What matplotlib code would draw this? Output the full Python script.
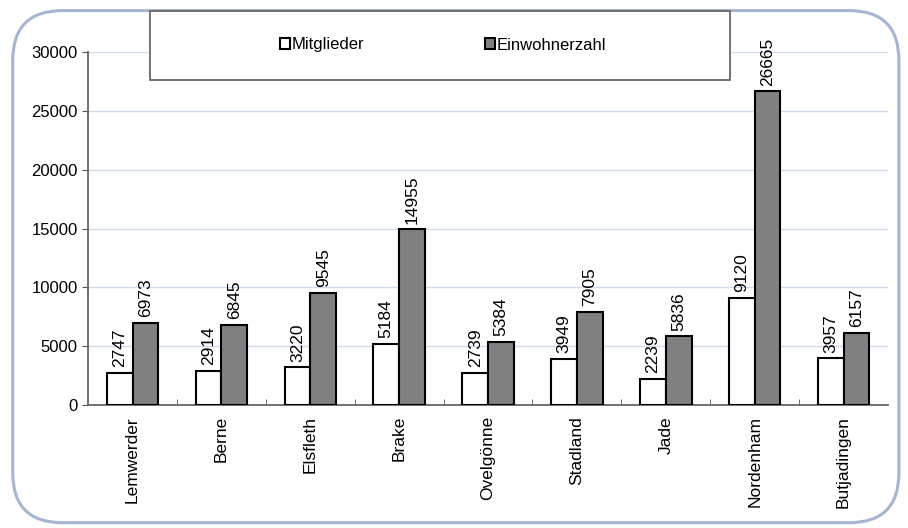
import matplotlib.pyplot as plt
import numpy as np
from matplotlib.patches import FancyBboxPatch, Rectangle

plt.rcParams['font.family'] = ['Liberation Sans', 'DejaVu Sans']

orte = ['Lemwerder', 'Berne', 'Elsfleth', 'Brake', 'Ovelgönne',
        'Stadland', 'Jade', 'Nordenham', 'Butjadingen']
mitglieder = [2747, 2914, 3220, 5184, 2739, 3949, 2239, 9120, 3957]
einwohner = [6973, 6845, 9545, 14955, 5384, 7905, 5836, 26665, 6157]

fig = plt.figure(figsize=(9.08, 5.28), dpi=100)
ax = fig.add_axes([0.097, 0.233, 0.881, 0.668])

x = np.arange(len(orte))
w = 0.29
b1 = ax.bar(x - w/2, mitglieder, w, color='white', edgecolor='black', linewidth=1.5, label='Mitglieder', zorder=3)
b2 = ax.bar(x + w/2, einwohner, w, color='#808080', edgecolor='black', linewidth=1.5, label='Einwohnerzahl', zorder=3)

for bars, vals in [(b1, mitglieder), (b2, einwohner)]:
    for r, v in zip(bars, vals):
        ax.annotate(str(v), (r.get_x() + r.get_width()/2, v), xytext=(0, 4),
                    textcoords='offset points', rotation=90, ha='center', va='bottom', fontsize=12.5)

ax.set_xlim(-0.5, len(orte) - 0.5)
ax.set_ylim(0, 30000)
ax.set_yticks(range(0, 30001, 5000))
ax.set_xticks(x)
ax.set_xticklabels(orte, rotation=90, fontsize=12.5)
ax.tick_params(axis='y', labelsize=12, length=4, color='#555555')
ax.tick_params(axis='x', length=0, pad=8)
ax.set_xticks(np.arange(0.5, len(orte) - 0.5), minor=True)
ax.tick_params(axis='x', which='minor', direction='in', length=4, color='#555555')
ax.yaxis.grid(True, color='#d0dbee', linewidth=1)
ax.set_axisbelow(True)
for s in ['top', 'right']:
    ax.spines[s].set_visible(False)
ax.spines['left'].set_color('#666666')
ax.spines['bottom'].set_color('#666666')
ax.spines['left'].set_linewidth(1.3)
ax.spines['bottom'].set_linewidth(1.3)

# rounded outer frame
frame = FancyBboxPatch((0.014, 0.01), 0.976, 0.97, boxstyle='round,pad=0,rounding_size=0.055',
                       transform=fig.transFigure, facecolor='none', edgecolor='#a6b6d2', linewidth=2.2,
                       mutation_aspect=908/528)
fig.patches.append(frame)

# legend box
lbox = Rectangle((150/908, 1 - 80/528), 580/908, 69/528, transform=fig.transFigure,
                 facecolor='white', edgecolor='#666666', linewidth=1.3)
fig.patches.append(lbox)
fig.legend([b1, b2], ['Mitglieder', 'Einwohnerzahl'], loc='center', ncol=2,
           bbox_to_anchor=(443/908, 1 - 45/528), frameon=False, fontsize=12,
           handlelength=0.6, handleheight=0.6, handletextpad=0.1, columnspacing=7.2)

fig.savefig('out.png', dpi=100)
